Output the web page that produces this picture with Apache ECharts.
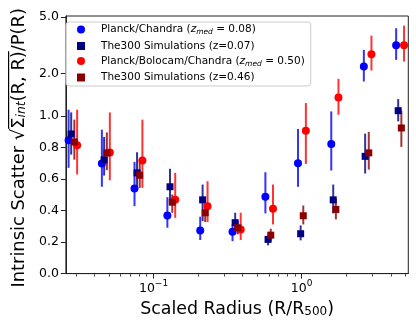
<!DOCTYPE html>
<html><head><meta charset="utf-8">
<script src="https://cdn.jsdelivr.net/npm/echarts@6/dist/echarts.min.js"></script>
<style>html,body{margin:0;padding:0;background:#fff}#c{width:416px;height:323px}</style>
</head><body><div id="c"></div>
<script>
// ---- data ----
const seriesNames = ['Planck/Chandra','The300 Simulations (z=0.07)','Planck/Bolocam/Chandra','The300 Simulations (z=0.46)'];
// Planck/Chandra (z_med = 0.08)
const pcX  = [0.0267,0.0448,0.0744,0.1240,0.2067,0.3415,0.5692,0.9448,1.585,2.630,4.345];
const pcY  = [0.846,0.698,0.540,0.369,0.274,0.266,0.487,0.700,0.823,2.233,3.158];
const pcLo = [0.671,0.551,0.428,0.291,0.213,0.206,0.382,0.551,0.654,1.751,2.488];
const pcHi = [1.107,0.913,0.709,0.485,0.361,0.312,0.643,0.918,1.077,2.926,4.157];
// The300 Simulations (z=0.07)
const s07X  = [0.0278,0.0464,0.0774,0.1292,0.2145,0.3558,0.5934,0.9848,1.634,2.684,4.487];
const s07Y  = [0.886,0.722,0.639,0.551,0.468,0.323,0.217,0.253,0.468,0.744,1.090];
const s07Lo = [0.755,0.622,0.551,0.470,0.333,0.260,0.179,0.211,0.382,0.635,0.966];
const s07Hi = [1.060,0.867,0.770,0.665,0.565,0.386,0.242,0.306,0.565,0.888,1.317];
// Planck/Bolocam/Chandra (z_med = 0.50)
const pbX  = [0.0305,0.0507,0.0841,0.1401,0.2316,0.3878,0.6407,1.068,1.773,2.960,4.913];
const pbY  = [0.814,0.768,0.717,0.468,0.428,0.280,0.411,0.907,1.351,2.729,3.158];
const pbLo = [0.629,0.592,0.544,0.354,0.327,0.213,0.312,0.696,1.021,2.093,2.421];
const pbHi = [1.107,1.060,0.977,0.639,0.586,0.386,0.565,1.234,1.829,3.687,4.337];
// The300 Simulations (z=0.46)
const s46X  = [0.0292,0.0484,0.0807,0.1338,0.2233,0.3704,0.6187,1.026,1.703,2.840,4.713];
const s46Y  = [0.835,0.766,0.624,0.453,0.386,0.291,0.244,0.367,0.407,0.766,0.924];
const s46Lo = [0.723,0.656,0.544,0.386,0.327,0.249,0.206,0.312,0.344,0.660,0.804];
const s46Hi = [0.977,0.896,0.713,0.502,0.449,0.333,0.285,0.432,0.475,0.899,1.090];

const yTickVals = [0.0,0.2,0.4,0.6,0.8,1.0,2.0,5.0];
const xMajor = [0.1,1];
const xMinor = [0.03,0.04,0.05,0.06,0.07,0.08,0.09,0.2,0.3,0.4,0.5,0.6,0.7,0.8,0.9,2,3,4,5];
const xRange = [0.0256,5.25];
const yMaxVal = 5.07;

// symlog (linthresh = 1, linscale = 1, base 10)
const LS = 1/(1-1/10);
function sl(v){ return v<=1 ? v*LS : LS+Math.log10(v); }
function isl(t){ return t<=LS ? t/LS : Math.pow(10,t-LS); }

const FONT = 'DejaVu Sans';
const colors = ['#0000ff','#000080','#ff0000','#8b0000'];
const symbols = ['circle','rect','circle','rect'];
const sets = [[pcX,pcY,pcLo,pcHi],[s07X,s07Y,s07Lo,s07Hi],[pbX,pbY,pbLo,pbHi],[s46X,s46Y,s46Lo,s46Hi]];

const series = [];
sets.forEach((s,k)=>{
  const [X,Y,Lo,Hi] = s;
  series.push({name:'err'+k, type:'custom', data: X.map((x,i)=>[x, sl(Lo[i]), sl(Hi[i])]), encode:{x:0,y:[1,2]},
    renderItem:(params,api)=>{const p1=api.coord([api.value(0),api.value(1)]);const p2=api.coord([api.value(0),api.value(2)]);
      return {type:'line',shape:{x1:p1[0],y1:p1[1],x2:p2[0],y2:p2[1]},style:{stroke:colors[k],lineWidth:2,opacity:0.8}};},
    silent:true, animation:false});
  series.push({name:seriesNames[k], type:'scatter', symbol:symbols[k], symbolSize: symbols[k]==='circle'?8:7,
    itemStyle:{color:colors[k],opacity:1}, data: X.map((x,i)=>[x, sl(Y[i])]), animation:false});
});

const LF = 10.5;
const legendRich = {
  a:{fontFamily:FONT,fontSize:LF,color:'#000',lineHeight:14},
  i:{fontFamily:FONT,fontSize:LF,fontStyle:'italic',color:'#000',lineHeight:14},
  s:{fontFamily:FONT,fontSize:7.5,fontStyle:'italic',color:'#000',lineHeight:8,verticalAlign:'bottom'}
};
const legendLabels = {
  'Planck/Chandra':'{a|Planck/Chandra (}{i|z}{s|med}{a| = 0.08)}',
  'The300 Simulations (z=0.07)':'{a|The300 Simulations (z=0.07)}',
  'Planck/Bolocam/Chandra':'{a|Planck/Bolocam/Chandra (}{i|z}{s|med}{a| = 0.50)}',
  'The300 Simulations (z=0.46)':'{a|The300 Simulations (z=0.46)}'
};

// y-axis title: radical with an overline (drawn as a rich-text bar on a line above)
const YF = 17.9, YS = 12.4, XF = 17.4, XS = 12;
const ctx = document.createElement('canvas').getContext('2d');
function tw(t,size,italic){ ctx.font=(italic?'italic ':'')+size+'px "'+FONT+'"'; return ctx.measureText(t).width; }
const wPre = tw('Intrinsic Scatter ',YF) + tw('√',YF);
const wBar = tw('Σ',YF) + tw('int',YS,true) + tw('(R, R)',YF);
const wPost = tw('/P(R)',YF);
const yName = '{p1| }{bar| }{p2| }\n{a|Intrinsic Scatter }{a|√}{a|Σ}{s|int}{a|(R, R)}{a|/P(R)}';

const chart = echarts.init(document.getElementById('c'),null,{renderer:'canvas'});
chart.setOption({
  animation:false,
  grid:{left:61.5,right:7.7,top:16,bottom:48.7,show:true,borderColor:'#222',borderWidth:1,backgroundColor:'transparent'},
  legend:{orient:'vertical', left:66, top:22, padding:[2,6,3,11], itemWidth:8, itemHeight:8, itemGap:4,
    backgroundColor:'rgba(255,255,255,0.85)', borderColor:'#cccccc', borderWidth:1, borderRadius:3,
    data: seriesNames.map((n,k)=>({name:n, icon:symbols[k]})),
    formatter: n => legendLabels[n],
    textStyle:{fontFamily:FONT,fontSize:LF,color:'#000',padding:[0,0,0,11],rich:legendRich}, selectedMode:false},
  xAxis:[{type:'log', logBase:10, min:xRange[0], max:xRange[1],
    axisLine:{show:true,lineStyle:{color:'#222',width:1}},
    axisTick:{show:true,length:5,lineStyle:{color:'#222',width:1},customValues:xMajor},
    axisLabel:{show:true,margin:6,customValues:xMajor,
      formatter:v=>{const e=Math.round(Math.log10(v)); return '{b|10}{p|'+(e<0?'−'+(-e):e)+'}';},
      rich:{b:{fontFamily:FONT,fontSize:12.5,color:'#000',lineHeight:16,verticalAlign:'bottom'},
            p:{fontFamily:FONT,fontSize:9,color:'#000',lineHeight:9,verticalAlign:'top'}}},
    splitLine:{show:false},
    name:'{a|Scaled Radius (R/R}{s|500}{a|)}', nameLocation:'middle', nameGap:22.5,
    nameTextStyle:{fontFamily:FONT,fontSize:XF,color:'#000',
      rich:{a:{fontFamily:FONT,fontSize:XF,color:'#000',lineHeight:18},
            s:{fontFamily:FONT,fontSize:XS,color:'#000',lineHeight:10,verticalAlign:'bottom'}}}
  },{type:'log', logBase:10, min:xRange[0], max:xRange[1], position:'bottom', axisLine:{show:false},
    axisTick:{show:true,length:3,lineStyle:{color:'#222',width:0.8},customValues:xMinor},
    axisLabel:{show:false}, splitLine:{show:false}}],
  yAxis:{type:'value', min:0, max:sl(yMaxVal),
    axisLine:{show:true,lineStyle:{color:'#222',width:1}},
    axisTick:{show:true,length:5,lineStyle:{color:'#222',width:1},customValues:yTickVals.map(sl)},
    axisLabel:{show:true,margin:7,customValues:yTickVals.map(sl), formatter:v=>isl(v).toFixed(1), fontFamily:FONT,fontSize:12.5,color:'#000'},
    splitLine:{show:false},
    name:yName, nameLocation:'middle', nameRotate:90, nameGap:35,
    nameTextStyle:{fontFamily:FONT,fontSize:YF,color:'#000',padding:[0,6,0,0],
      rich:{p1:{width:wPre,height:1,lineHeight:3,fontSize:1},
            bar:{width:wBar,height:1.2,lineHeight:3,fontSize:1,backgroundColor:'#000'},
            p2:{width:wPost,height:1,lineHeight:3,fontSize:1},
            a:{fontFamily:FONT,fontSize:YF,color:'#000',lineHeight:18},
            s:{fontFamily:FONT,fontSize:YS,fontStyle:'italic',color:'#000',lineHeight:10,verticalAlign:'bottom'}}}},
  series:series
});
</script></body></html>
